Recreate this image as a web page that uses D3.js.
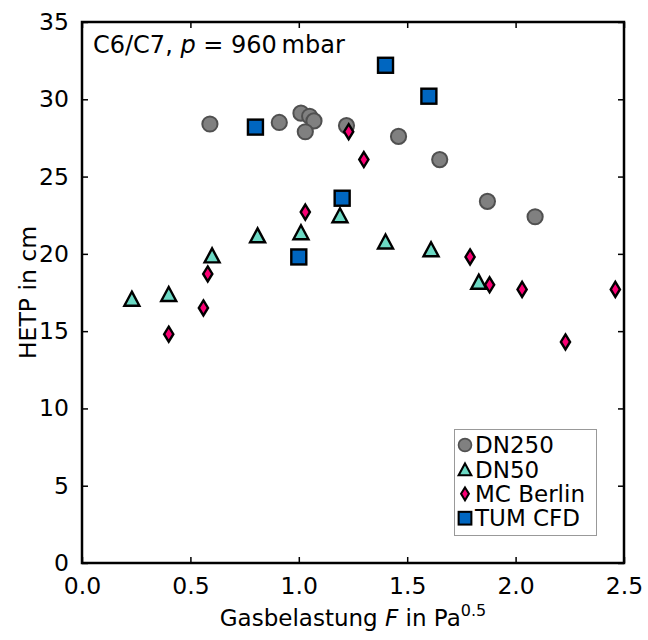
<!DOCTYPE html>
<html>
<head>
<meta charset="utf-8">
<script src="https://cdn.jsdelivr.net/npm/d3@7"></script>
<style>
  html, body { margin: 0; padding: 0; background: #fff; }
  svg { display: block; font-family: "DejaVu Sans", sans-serif; }
</style>
</head>
<body>
<svg id="chart" width="648" height="640"></svg>
<script>
// ---- data ----
const dn250F = [0.59, 0.91, 1.01, 1.05, 1.07, 1.03, 1.22, 1.46, 1.65, 1.87, 2.09];
const dn250H = [28.4, 28.5, 29.1, 28.9, 28.6, 27.9, 28.3, 27.6, 26.1, 23.4, 22.4];
const dn50F = [0.23, 0.40, 0.60, 0.81, 1.01, 1.19, 1.40, 1.61, 1.83];
const dn50H = [17.1, 17.4, 19.9, 21.2, 21.4, 22.5, 20.8, 20.3, 18.2];
const mcF = [0.40, 0.56, 0.58, 1.03, 1.23, 1.30, 1.79, 1.88, 2.03, 2.23, 2.46];
const mcH = [14.8, 16.5, 18.7, 22.7, 27.9, 26.1, 19.8, 18.0, 17.7, 14.3, 17.7];
const tumF = [0.80, 1.00, 1.20, 1.40, 1.60];
const tumH = [28.2, 19.8, 23.6, 32.2, 30.2];
const xTicks = [0.0, 0.5, 1.0, 1.5, 2.0, 2.5];
const yTicks = [0, 5, 10, 15, 20, 25, 30, 35];
const seriesNames = ["DN250", "DN50", "MC Berlin", "TUM CFD"];

// ---- layout ----
const svg = d3.select("#chart");
const L = 82, R = 624, T = 22, B = 563;
const x = d3.scaleLinear().domain([0, 2.5]).range([L, R]);
const y = d3.scaleLinear().domain([0, 35]).range([B, T]);
const FS = 23;

// marker shapes
const shapes = {
  circle: g => g.append("circle").attr("r", 7.6)
    .attr("fill", "#808080").attr("stroke", "#505050").attr("stroke-width", 2),
  tri: g => g.append("path").attr("d", "M0,-7L7.5,7L-7.5,7Z")
    .attr("fill", "#6cd9c4").attr("stroke", "#000").attr("stroke-width", 2.4).attr("stroke-linejoin", "miter"),
  diamond: g => g.append("path").attr("d", "M0,-7.5L4.6,0L0,7.5L-4.6,0Z")
    .attr("fill", "#fa0074").attr("stroke", "#000").attr("stroke-width", 2.4),
  square: g => g.append("rect").attr("x", -7.5).attr("y", -7.5).attr("width", 15).attr("height", 15)
    .attr("fill", "#0066c0").attr("stroke", "#000").attr("stroke-width", 2.4)
};

function drawSeries(F, H, shape, cls) {
  const pts = F.map((f, i) => ({ f: f, h: H[i] }));
  svg.append("g").attr("class", cls).selectAll("g").data(pts).enter().append("g")
    .attr("transform", d => `translate(${x(d.f)},${y(d.h)})`)
    .each(function () { shapes[shape](d3.select(this)); });
}

// ---- axes (ticks inward, mirrored) ----
const tickLen = 6;
const axB = svg.append("g").attr("transform", `translate(0,${B})`)
  .call(d3.axisBottom(x).tickValues(xTicks).tickFormat(d3.format(".1f")).tickSizeInner(-tickLen).tickSizeOuter(0).tickPadding(14));
const axT = svg.append("g").attr("transform", `translate(0,${T})`)
  .call(d3.axisTop(x).tickValues(xTicks).tickFormat("").tickSizeInner(-tickLen).tickSizeOuter(0));
const axL = svg.append("g").attr("transform", `translate(${L},0)`)
  .call(d3.axisLeft(y).tickValues(yTicks).tickFormat(d3.format("d")).tickSizeInner(-tickLen).tickSizeOuter(0).tickPadding(13));
const axR = svg.append("g").attr("transform", `translate(${R},0)`)
  .call(d3.axisRight(y).tickValues(yTicks).tickFormat("").tickSizeInner(-tickLen).tickSizeOuter(0));
[axB, axT, axL, axR].forEach(a => {
  a.select(".domain").remove();
  a.selectAll(".tick line").attr("stroke", "#000").attr("stroke-width", 1.5);
  a.selectAll(".tick text").attr("font-size", FS + 0.5).attr("fill", "#000").attr("font-family", "DejaVu Sans");
});
axB.selectAll(".tick text").attr("dy", "0.71em");

// frame
svg.append("rect").attr("x", L).attr("y", T).attr("width", R - L).attr("height", B - T)
  .attr("fill", "none").attr("stroke", "#000").attr("stroke-width", 2.5);

// ---- data ----
drawSeries(dn250F, dn250H, "circle", "dn250");
drawSeries(dn50F, dn50H, "tri", "dn50");
drawSeries(mcF, mcH, "diamond", "mc");
drawSeries(tumF, tumH, "square", "tum");

// ---- annotation ----
const ann = svg.append("text").attr("x", 93).attr("y", 53).attr("font-size", 24).attr("fill", "#000");
ann.append("tspan").text("C6/C7, ");
ann.append("tspan").attr("font-style", "italic").text("p");
ann.append("tspan").text(" = 960\u2009mbar");

// ---- axis labels ----
const xl = svg.append("text").attr("x", (L + R) / 2).attr("y", 626).attr("text-anchor", "middle")
  .attr("font-size", FS).attr("fill", "#000");
xl.append("tspan").text("Gasbelastung ");
xl.append("tspan").attr("font-style", "italic").text("F");
xl.append("tspan").text(" in Pa");
xl.append("tspan").attr("font-size", 16).attr("dy", -10).text("0.5");

svg.append("text").attr("transform", `translate(36,${(T + B) / 2}) rotate(-90)`)
  .attr("text-anchor", "middle").attr("font-size", FS + 0.5).attr("fill", "#000").text("HETP in cm");

// ---- legend ----
const lg = svg.append("g");
lg.append("rect").attr("x", 454.5).attr("y", 429.5).attr("width", 142).attr("height", 106)
  .attr("fill", "#fff").attr("stroke", "#999").attr("stroke-width", 1);
const legShapes = ["circle", "tri", "diamond", "square"];
seriesNames.forEach((name, i) => {
  const cy = 445 + i * 24.4;
  const g = lg.append("g").attr("transform", `translate(465,${cy}) scale(0.85)`);
  shapes[legShapes[i]](g);
  lg.append("text").attr("x", 475).attr("y", cy).attr("dy", "0.36em")
    .attr("font-size", FS).attr("fill", "#000").text(name);
});
</script>
</body>
</html>
